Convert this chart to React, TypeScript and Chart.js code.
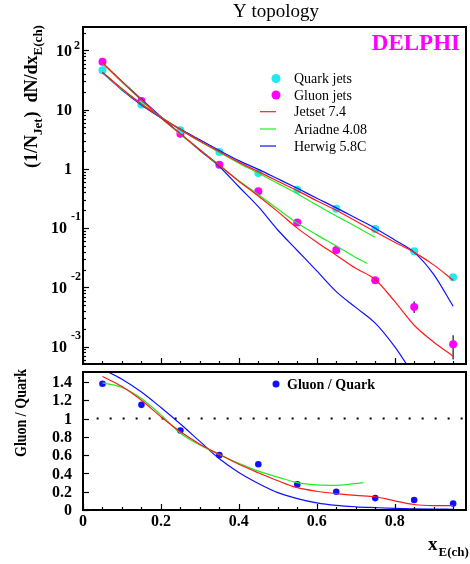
import React, { useEffect, useRef } from 'react';
import { Chart, registerables } from 'chart.js';
Chart.register(...registerables);

const SERIF = "'Liberation Serif', 'Times New Roman', serif";

// ---- data: jet fragmentation, top panel ----
const xBins = [0.05, 0.15, 0.25, 0.35, 0.45, 0.55, 0.65, 0.75, 0.85, 0.95];
const quarkJets = [46, 12.2, 4.5, 1.93, 0.85, 0.446, 0.213, 0.0966, 0.0406, 0.0148];
const gluonJets = [64, 14, 3.9, 1.18, 0.42, 0.125, 0.0427, 0.0132, 0.00465, 0.0011];
const gluonErrLow = [null, null, null, null, null, null, null, null, 0.0037, 0.00061];
const gluonErrHigh = [null, null, null, null, null, null, null, null, 0.0058, 0.00156];

const xModel = [0.05, 0.1, 0.15, 0.2, 0.25, 0.3, 0.35, 0.4, 0.45, 0.5, 0.55, 0.6, 0.65, 0.7, 0.75, 0.8, 0.85, 0.9, 0.95];
const jetsetQuark = [43, 22.5, 12.5, 7.5, 4.6, 2.95, 1.95, 1.3, 0.9, 0.62, 0.43, 0.29, 0.2, 0.132, 0.087, 0.058, 0.039, 0.024, 0.0132];
const herwigQuark = [42, 21.5, 12, 7.3, 4.7, 3.1, 2.05, 1.38, 0.98, 0.68, 0.47, 0.32, 0.22, 0.148, 0.1, 0.063, 0.039, 0.0166, 0.0048];
const xAriadneQuark = [0.05, 0.1, 0.15, 0.2, 0.25, 0.3, 0.35, 0.4, 0.45, 0.5, 0.55, 0.6, 0.65, 0.7, 0.75];
const ariadneQuark = [43, 22, 12.5, 7.5, 4.6, 2.9, 1.9, 1.25, 0.85, 0.57, 0.38, 0.245, 0.16, 0.107, 0.07];
const jetsetGluon = [62, 30, 14.5, 7.3, 3.9, 2.1, 1.15, 0.62, 0.35, 0.19, 0.1, 0.058, 0.035, 0.021, 0.0136, 0.0058, 0.0023, 0.0012, 0.00069];
const xAriadneGluon = [0.05, 0.1, 0.15, 0.2, 0.25, 0.3, 0.35, 0.4, 0.45, 0.5, 0.55, 0.6, 0.65, 0.7, 0.73];
const ariadneGluon = [60, 29, 14.5, 7.3, 3.85, 2.1, 1.15, 0.63, 0.37, 0.21, 0.122, 0.077, 0.05, 0.032, 0.0254];
const xHerwigGluon = [0.05, 0.1, 0.15, 0.2, 0.25, 0.3, 0.35, 0.4, 0.45, 0.5, 0.55, 0.6, 0.65, 0.7, 0.75, 0.8, 0.85];
const herwigGluon = [60, 30, 15, 7.6, 3.9, 2.05, 1.1, 0.5, 0.23, 0.093, 0.042, 0.019, 0.0085, 0.0046, 0.0025, 0.001, 0.00032];

// ---- data: ratio, bottom panel ----
const ratioData = [1.38, 1.15, 0.87, 0.6, 0.5, 0.28, 0.2, 0.13, 0.11, 0.07];
const jetsetRatio = [1.46, 1.35, 1.2, 1.02, 0.855, 0.72, 0.607, 0.5, 0.407, 0.32, 0.244, 0.205, 0.18, 0.16, 0.145, 0.1, 0.06, 0.048, 0.047];
const xAriadneRatio = [0.05, 0.1, 0.15, 0.2, 0.25, 0.3, 0.35, 0.4, 0.45, 0.5, 0.55, 0.6, 0.65, 0.72];
const ariadneRatio = [1.39, 1.34, 1.22, 1.04, 0.84, 0.71, 0.607, 0.51, 0.425, 0.36, 0.3, 0.275, 0.27, 0.3];
const herwigRatio = [1.54, 1.43, 1.29, 1.12, 0.94, 0.75, 0.56, 0.41, 0.29, 0.19, 0.125, 0.078, 0.05, 0.035, 0.026, 0.018, 0.013, 0.01, 0.008];
const unityLineX = [0.035, 0.983];

// ---- tick labels ----
const topDecades = [2, 1, 0, -1, -2, -3];
const ratioTicks = [0, 0.2, 0.4, 0.6, 0.8, 1, 1.2, 1.4];
const ratioTickLabels = ['0', '0.2', '0.4', '0.6', '0.8', '1', '1.2', '1.4'];
const xTicks = [0, 0.2, 0.4, 0.6, 0.8];
const xTickLabels = ['0', '0.2', '0.4', '0.6', '0.8'];

const X_MIN = 0, X_MAX = 0.983;
const CYAN = '#22e8f0';
const MAGENTA = '#ff00ff';
const RED = '#ff1a1a';
const GREEN = '#22ee22';
const BLUE = '#1010ff';

const pts = (xs: number[], ys: number[]) => xs.map((x, i) => ({ x, y: ys[i] }));

function lineDs(label: string, xs: number[], ys: number[], color: string) {
  return {
    type: 'line' as const, label, data: pts(xs, ys), borderColor: color, backgroundColor: color,
    borderWidth: 1.2, pointRadius: 0, cubicInterpolationMode: 'monotone' as const, order: 1,
  };
}
function pointDs(label: string, xs: number[], ys: number[], color: string, r: number) {
  return {
    type: 'line' as const, label, data: pts(xs, ys), borderColor: color, backgroundColor: color,
    showLine: false, pointRadius: r, pointBorderWidth: 0, order: 2,
  };
}

function frameAndXTicks(ctx: CanvasRenderingContext2D, a: any, x: any) {
  ctx.save();
  ctx.strokeStyle = '#000';
  ctx.lineWidth = 1.2;
  for (let k = 0; k <= 19; k++) {
    const v = k * 0.05;
    if (v > X_MAX) break;
    const px = Math.round(x.getPixelForValue(v)) + 0.5;
    const len = k % 4 === 0 ? 6 : 3;
    ctx.beginPath(); ctx.moveTo(px, a.bottom); ctx.lineTo(px, a.bottom - len); ctx.stroke();
  }
  ctx.lineWidth = 2;
  ctx.strokeRect(a.left, a.top, a.right - a.left, a.bottom - a.top);
  ctx.restore();
}

const topDecor = {
  id: 'topDecor',
  beforeDatasetsDraw(chart: any) {
    const { ctx, scales: { x, y } } = chart;
    ctx.save();
    ctx.strokeStyle = '#444';
    ctx.lineWidth = 1.5;
    xBins.forEach((xv, i) => {
      const lo = gluonErrLow[i], hi = gluonErrHigh[i];
      if (lo == null || hi == null) return;
      const px = x.getPixelForValue(xv);
      ctx.beginPath(); ctx.moveTo(px, y.getPixelForValue(lo)); ctx.lineTo(px, y.getPixelForValue(hi)); ctx.stroke();
    });
    ctx.restore();
  },
  afterDraw(chart: any) {
    const { ctx, chartArea: a, scales: { x, y } } = chart;
    frameAndXTicks(ctx, a, x);
    ctx.save();
    // y ticks (log)
    ctx.strokeStyle = '#000';
    ctx.lineWidth = 1.2;
    for (let d = -4; d <= 2; d++) {
      for (let m = 1; m <= 9; m++) {
        const v = m * Math.pow(10, d);
        if (v < y.min || v > y.max) continue;
        const py = Math.round(y.getPixelForValue(v)) + 0.5;
        const len = m === 1 ? 6 : 3;
        ctx.beginPath(); ctx.moveTo(a.left, py); ctx.lineTo(a.left + len, py); ctx.stroke();
      }
    }
    // y tick labels
    ctx.fillStyle = '#000';
    ctx.textBaseline = 'middle';
    for (const d of topDecades) {
      const p = y.getPixelForValue(Math.pow(10, d));
      ctx.font = `bold 16px ${SERIF}`;
      if (d === 1) { ctx.textAlign = 'right'; ctx.fillText('10', 72, p + 1); }
      else if (d === 0) { ctx.textAlign = 'right'; ctx.fillText('1', 72, p + 1); }
      else if (d > 0) {
        ctx.textAlign = 'right'; ctx.fillText('10', 72, p + 1);
        ctx.font = `bold 12px ${SERIF}`; ctx.textAlign = 'left'; ctx.fillText(String(d), 74, p - 4);
      } else {
        ctx.textAlign = 'right'; ctx.fillText('10', 67, p + 1);
        ctx.font = `bold 12px ${SERIF}`; ctx.textAlign = 'left'; ctx.fillText(String(d), 71, p - 11);
      }
    }
    // title
    ctx.font = `19px ${SERIF}`;
    ctx.textAlign = 'center';
    ctx.fillText('Y topology', 276, 12);
    // DELPHI
    ctx.font = `bold 23px ${SERIF}`;
    ctx.fillStyle = MAGENTA;
    ctx.textAlign = 'right';
    ctx.fillText('DELPHI', 460, 44);
    // legend
    ctx.font = `14px ${SERIF}`;
    ctx.textAlign = 'left';
    const legendMarkers = [
      { label: 'Quark jets', color: CYAN, y: 78.5 },
      { label: 'Gluon jets', color: MAGENTA, y: 95 },
    ];
    for (const it of legendMarkers) {
      ctx.fillStyle = it.color;
      ctx.beginPath(); ctx.arc(276, it.y, 4.5, 0, Math.PI * 2); ctx.fill();
      ctx.fillStyle = '#000';
      ctx.fillText(it.label, 294, it.y + 1);
    }
    const legendLines = [
      { label: 'Jetset 7.4', color: RED, y: 111.7 },
      { label: 'Ariadne 4.08', color: GREEN, y: 129 },
      { label: 'Herwig 5.8C', color: BLUE, y: 146 },
    ];
    for (const it of legendLines) {
      ctx.strokeStyle = it.color; ctx.lineWidth = 1.2;
      ctx.beginPath(); ctx.moveTo(260, it.y); ctx.lineTo(276, it.y); ctx.stroke();
      ctx.fillStyle = '#000';
      ctx.fillText(it.label, 294, it.y + 1);
    }
    // y axis title (rotated)
    ctx.translate(37, 168);
    ctx.rotate(-Math.PI / 2);
    ctx.textAlign = 'left';
    ctx.textBaseline = 'alphabetic';
    ctx.fillStyle = '#000';
    const segs = [
      { t: '(1/N', sub: false }, { t: 'Jet', sub: true }, { t: ')  dN/dx', sub: false }, { t: 'E(ch)', sub: true },
    ];
    let cx = 0;
    for (const s of segs) {
      ctx.font = s.sub ? `bold 13px ${SERIF}` : `bold 18px ${SERIF}`;
      ctx.fillText(s.t, cx, s.sub ? 5 : 0);
      cx += ctx.measureText(s.t).width + (s.sub ? 1 : 0);
    }
    ctx.restore();
  },
};

const bottomDecor = {
  id: 'bottomDecor',
  afterDraw(chart: any) {
    const { ctx, chartArea: a, scales: { x, y } } = chart;
    frameAndXTicks(ctx, a, x);
    ctx.save();
    ctx.strokeStyle = '#000';
    ctx.lineWidth = 1.2;
    ratioTicks.forEach((v) => {
      const py = Math.round(y.getPixelForValue(v)) + 0.5;
      ctx.beginPath(); ctx.moveTo(a.left, py); ctx.lineTo(a.left + 6, py); ctx.stroke();
    });
    ctx.fillStyle = '#000';
    ctx.font = `bold 16px ${SERIF}`;
    ctx.textBaseline = 'middle';
    ctx.textAlign = 'right';
    ratioTicks.forEach((v, i) => ctx.fillText(ratioTickLabels[i], 72, y.getPixelForValue(v) + 1));
    ctx.textAlign = 'center';
    xTicks.forEach((v, i) => ctx.fillText(xTickLabels[i], x.getPixelForValue(v), 522));
    // legend
    ctx.fillStyle = BLUE;
    ctx.beginPath(); ctx.arc(276, 384, 3.5, 0, Math.PI * 2); ctx.fill();
    ctx.fillStyle = '#000';
    ctx.font = `bold 14px ${SERIF}`;
    ctx.textAlign = 'left';
    ctx.fillText('Gluon / Quark', 287, 385);
    // x axis title
    ctx.textBaseline = 'alphabetic';
    ctx.font = `bold 19px ${SERIF}`;
    ctx.fillText('x', 428, 550);
    const xw = ctx.measureText('x').width;
    ctx.font = `bold 13px ${SERIF}`;
    ctx.fillText('E(ch)', 428 + xw + 1, 556);
    // y axis title
    ctx.translate(26, 457);
    ctx.rotate(-Math.PI / 2);
    ctx.scale(1, 1.25);
    ctx.font = `bold 14px ${SERIF}`;
    ctx.fillText('Gluon / Quark', 0, 0);
    ctx.restore();
  },
};

export default function App() {
  const topRef = useRef<HTMLCanvasElement>(null);
  const botRef = useRef<HTMLCanvasElement>(null);

  useEffect(() => {
    const common = {
      responsive: false, animation: false as const, devicePixelRatio: 1,
      plugins: { legend: { display: false }, tooltip: { enabled: false }, title: { display: false } },
      events: [] as any[],
    };
    const top = new Chart(topRef.current!, {
      type: 'line',
      data: {
        datasets: [
          lineDs('Jetset 7.4 quark', xModel, jetsetQuark, RED),
          lineDs('Ariadne 4.08 quark', xAriadneQuark, ariadneQuark, GREEN),
          lineDs('Herwig 5.8C quark', xModel, herwigQuark, BLUE),
          lineDs('Jetset 7.4 gluon', xModel, jetsetGluon, RED),
          lineDs('Ariadne 4.08 gluon', xAriadneGluon, ariadneGluon, GREEN),
          lineDs('Herwig 5.8C gluon', xHerwigGluon, herwigGluon, BLUE),
          pointDs('Quark jets', xBins, quarkJets, CYAN, 4),
          pointDs('Gluon jets', xBins, gluonJets, MAGENTA, 4),
        ] as any,
      },
      options: {
        ...common,
        layout: { padding: { left: 83, right: 4, top: 27, bottom: 200 } },
        scales: {
          x: { type: 'linear', min: X_MIN, max: X_MAX, display: false },
          y: { type: 'logarithmic', min: 5.1e-4, max: 248, display: false },
        },
      } as any,
      plugins: [topDecor],
    });
    const bottom = new Chart(botRef.current!, {
      type: 'line',
      data: {
        datasets: [
          {
            type: 'line', label: 'unity', data: unityLineX.map((x) => ({ x, y: 1 })), borderColor: '#000',
            borderWidth: 2, borderDash: [2, 11], pointRadius: 0, order: 3,
          },
          lineDs('Jetset 7.4', xModel, jetsetRatio, RED),
          lineDs('Ariadne 4.08', xAriadneRatio, ariadneRatio, GREEN),
          lineDs('Herwig 5.8C', xModel, herwigRatio, BLUE),
          pointDs('Gluon / Quark', xBins, ratioData, BLUE, 3.3),
        ] as any,
      },
      options: {
        ...common,
        layout: { padding: { left: 83, right: 3, top: 372, bottom: 54 } },
        scales: {
          x: { type: 'linear', min: X_MIN, max: X_MAX, display: false },
          y: { type: 'linear', min: 0, max: 1.509, display: false },
        },
      } as any,
      plugins: [bottomDecor],
    });
    return () => { top.destroy(); bottom.destroy(); };
  }, []);

  return (
    <div style={{ position: 'absolute', left: 0, top: 0, width: 470, height: 564, background: '#fff' }}>
      <canvas ref={topRef} width={470} height={564} style={{ position: 'absolute', left: 0, top: 0 }} />
      <canvas ref={botRef} width={470} height={564} style={{ position: 'absolute', left: 0, top: 0 }} />
    </div>
  );
}
